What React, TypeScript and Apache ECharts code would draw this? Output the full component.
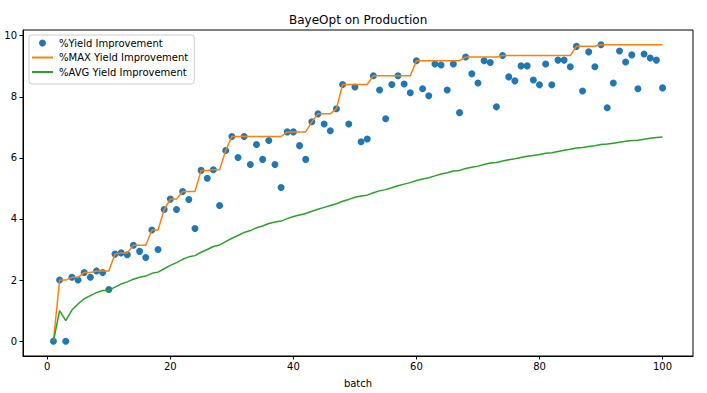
import React, { useEffect, useRef } from "react";
import * as echarts from "echarts";

const titleText = "BayeOpt on Production";
const xAxisName = "batch";
const seriesNames = ["%Yield Improvement", "%MAX Yield Improvement", "%AVG Yield Improvement"];
const xTicks = [0, 20, 40, 60, 80, 100];
const yTicks = [0, 2, 4, 6, 8, 10];

const yieldValues = [
  0, 2.0, 0, 2.09, 2.0, 2.25, 2.09, 2.3, 2.25, 1.69,
  2.85, 2.89, 2.83, 3.14, 2.94, 2.74, 3.64, 3.0, 4.31, 4.65,
  4.31, 4.9, 4.64, 3.69, 5.59, 5.33, 5.61, 4.44, 6.24, 6.7,
  6.01, 6.7, 5.78, 6.44, 5.95, 6.57, 5.78, 5.03, 6.85, 6.85,
  6.4, 5.95, 7.18, 7.44, 7.11, 6.89, 7.61, 8.4, 7.11, 8.32,
  6.53, 6.62, 8.69, 8.22, 7.28, 8.4, 8.69, 8.42, 8.13, 9.18,
  8.26, 8.03, 9.07, 9.04, 8.22, 9.07, 7.48, 9.3, 8.75, 8.45,
  9.18, 9.12, 7.67, 9.35, 8.65, 8.52, 9.01, 9.01, 8.55, 8.39,
  9.07, 8.39, 9.2, 9.2, 8.98, 9.65, 8.19, 9.47, 8.98, 9.7,
  7.64, 8.45, 9.5, 9.14, 9.37, 8.26, 9.4, 9.27, 9.2, 8.29,
];

const maxValues = [
  0, 2.0, 2.0, 2.09, 2.09, 2.25, 2.25, 2.3, 2.3, 2.3,
  2.85, 2.89, 2.89, 3.14, 3.14, 3.14, 3.64, 3.64, 4.31, 4.65,
  4.65, 4.9, 4.9, 4.9, 5.59, 5.59, 5.61, 5.61, 6.24, 6.7,
  6.7, 6.7, 6.7, 6.7, 6.7, 6.7, 6.7, 6.7, 6.85, 6.85,
  6.85, 6.85, 7.18, 7.44, 7.44, 7.44, 7.61, 8.4, 8.4, 8.4,
  8.4, 8.4, 8.69, 8.69, 8.69, 8.69, 8.69, 8.69, 8.69, 9.18,
  9.18, 9.18, 9.18, 9.18, 9.18, 9.18, 9.18, 9.3, 9.3, 9.3,
  9.3, 9.3, 9.3, 9.35, 9.35, 9.35, 9.35, 9.35, 9.35, 9.35,
  9.35, 9.35, 9.35, 9.35, 9.35, 9.65, 9.65, 9.65, 9.65, 9.7,
  9.7, 9.7, 9.7, 9.7, 9.7, 9.7, 9.7, 9.7, 9.7, 9.7,
];

const avgValues = [
  0, 1.0, 0.67, 1.02, 1.22, 1.39, 1.49, 1.59, 1.66, 1.67,
  1.77, 1.87, 1.94, 2.03, 2.09, 2.13, 2.22, 2.26, 2.37, 2.48,
  2.57, 2.68, 2.76, 2.8, 2.91, 3.0, 3.1, 3.15, 3.26, 3.37,
  3.46, 3.56, 3.62, 3.71, 3.77, 3.85, 3.9, 3.93, 4.01, 4.08,
  4.13, 4.18, 4.25, 4.32, 4.38, 4.44, 4.5, 4.58, 4.64, 4.71,
  4.75, 4.78, 4.86, 4.92, 4.96, 5.02, 5.09, 5.14, 5.19, 5.26,
  5.31, 5.35, 5.41, 5.47, 5.51, 5.57, 5.59, 5.65, 5.69, 5.73,
  5.78, 5.83, 5.85, 5.9, 5.94, 5.97, 6.01, 6.05, 6.08, 6.11,
  6.15, 6.17, 6.21, 6.25, 6.28, 6.32, 6.34, 6.37, 6.4, 6.44,
  6.45, 6.48, 6.51, 6.54, 6.57, 6.58, 6.61, 6.64, 6.67, 6.68,
];

const colors = ["#1f77b4", "#ff7f0e", "#2ca02c"];
const FONT = "DejaVu Sans";

const toPairs = (vals: number[]) => vals.map((v, i) => [i + 1, v]);

export default function App() {
  const ref = useRef<HTMLDivElement>(null);
  useEffect(() => {
    if (!ref.current) return;
    const chart = echarts.init(ref.current, undefined, { renderer: "svg" });
    chart.setOption({
      animation: false,
      backgroundColor: "#ffffff",
      textStyle: { fontFamily: FONT },
      title: {
        text: titleText,
        left: 289,
        top: 14,
        padding: 0,
        textStyle: { fontFamily: FONT, fontSize: 12, fontWeight: "normal", color: "#000" },
      },
      legend: {
        orient: "vertical",
        left: 29,
        top: 35,
        padding: [2, 6, 6, 2],
        itemGap: 2.5,
        itemWidth: 21,
        itemHeight: 7,
        borderColor: "#cccccc",
        borderWidth: 1,
        borderRadius: 3,
        backgroundColor: "rgba(255,255,255,0.8)",
        textStyle: { fontFamily: FONT, fontSize: 10, lineHeight: 12, color: "#000", padding: [0, 0, 0, 1] },
        data: [
          { name: seriesNames[0], icon: "circle", itemStyle: { opacity: 1 } },
          { name: seriesNames[1], itemStyle: { opacity: 0 } },
          { name: seriesNames[2], itemStyle: { opacity: 0 } },
        ],
      },
      grid: {
        left: 23,
        top: 30,
        width: 670,
        height: 326,
        show: true,
        borderColor: "#000",
        borderWidth: 1,
        containLabel: false,
      },
      xAxis: {
        type: "value",
        min: -3.95,
        max: 104.95,
        name: xAxisName,
        nameLocation: "middle",
        nameGap: 22,
        nameTextStyle: { fontFamily: FONT, fontSize: 10, color: "#000" },
        axisLine: { show: true, onZero: false, lineStyle: { color: "#000" } },
        axisTick: { show: true, inside: false, length: 3.5, customValues: xTicks, lineStyle: { color: "#000" } },
        axisLabel: { customValues: xTicks, fontFamily: FONT, fontSize: 10, color: "#000", margin: 5 },
        splitLine: { show: false },
      },
      yAxis: {
        type: "value",
        min: -0.485,
        max: 10.185,
        axisLine: { show: true, onZero: false, lineStyle: { color: "#000" } },
        axisTick: { show: true, inside: false, length: 3.5, customValues: yTicks, lineStyle: { color: "#000" } },
        axisLabel: { customValues: yTicks, fontFamily: FONT, fontSize: 10, color: "#000", margin: 6 },
        splitLine: { show: false },
      },
      series: [
        {
          name: seriesNames[0],
          type: "scatter",
          symbol: "circle",
          symbolSize: 7,
          itemStyle: { color: colors[0], opacity: 1 },
          data: toPairs(yieldValues),
        },
        {
          name: seriesNames[1],
          type: "line",
          symbol: "none",
          lineStyle: { color: colors[1], width: 1.5 },
          itemStyle: { color: colors[1] },
          data: toPairs(maxValues),
        },
        {
          name: seriesNames[2],
          type: "line",
          symbol: "none",
          lineStyle: { color: colors[2], width: 1.5 },
          itemStyle: { color: colors[2] },
          data: toPairs(avgValues),
        },
      ],
    });
    return () => chart.dispose();
  }, []);
  return (
    <div
      ref={ref}
      style={{ position: "fixed", left: 0, top: 0, width: 707, height: 393, background: "#fff" }}
    />
  );
}
